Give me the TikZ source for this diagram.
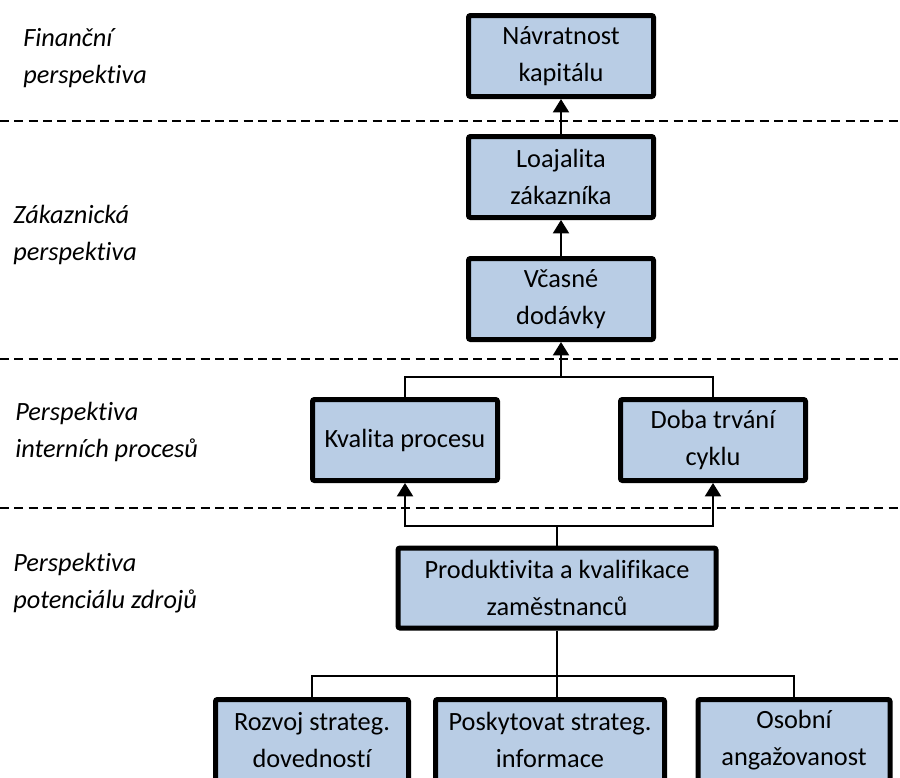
\documentclass[tikz,border=0pt]{standalone}
\usepackage{fontspec}
\setmainfont[Ligatures=NoCommon]{Carlito}
\usetikzlibrary{arrows.meta}
\definecolor{boxblue}{HTML}{B9CDE5}
\newcommand{\boxfont}{\fontsize{19.75}{27.75}\selectfont}
\tikzset{
	box/.style={rectangle, draw, line width=3.75pt, rounded corners=1.5pt, fill=boxblue, align=center, minimum width=138.75pt, minimum height=60.75pt, inner sep=2pt, font=\boxfont},
	conn/.style={line width=1.5pt},
	arr/.style={line width=1.5pt, -{Triangle[width=12pt,length=10pt]}},
	sep/.style={line width=1.5pt, dash pattern=on 6.75pt off 4pt},
	persp/.style={font=\boxfont\itshape, align=left, anchor=west, inner sep=0pt}
}
\begin{document}
\begin{tikzpicture}[x=0.75pt, y=-0.75pt]
	\useasboundingbox (0,0) rectangle (900,778);

	\draw[sep] (0,121) -- (900,121);
	\draw[sep] (0,359) -- (900,359);
	\draw[sep] (0,508) -- (900,508);

	\node[persp] (lfin) at (23,58) {Finanční\\perspektiva};
	\node[persp] (lzak) at (13,235) {Zákaznická\\perspektiva};
	\node[persp] (lint) at (15,432) {Perspektiva\\interních procesů};
	\node[persp] (lpot) at (13,583) {Perspektiva\\potenciálu zdrojů};

	\node[box] (navr) at (561,56) {Návratnost\\kapitálu};
	\node[box] (loaj) at (561,177) {Loajalita\\zákazníka};
	\node[box] (vcas) at (561,299) {Včasné\\dodávky};
	\node[box] (kval) at (405,440) {Kvalita procesu};
	\node[box] (doba) at (713,440) {Doba trvání\\cyklu};
	\node[box, minimum width=238.5pt, minimum height=60pt] (prod) at (557,588) {Produktivita a kvalifikace\\zaměstnanců};
	\node[box, minimum width=144.75pt] (rozv) at (312,740) {Rozvoj strateg.\\dovedností};
	\node[box, minimum width=171.75pt] (posk) at (550,740) {Poskytovat strateg.\\informace};
	\node[box, minimum width=144pt] (osob) at (794,740) {Osobní\\angažovanost};

	\draw[arr] (loaj) -- (navr);
	\draw[arr] (vcas) -- (loaj);
	\draw[conn] (kval.north) -- ++(0,-20) coordinate (jtop) -| (doba.north);
	\draw[arr] (jtop -| vcas.south) -- (vcas.south);
	\draw[conn] (prod.north) -- ++(0,-20) coordinate (jmid);
	\draw[arr] (jmid) -| (kval.south);
	\draw[arr] (jmid) -| (doba.south);
	\draw[conn] (prod.south) -- (prod.south |- posk.north);
	\draw[conn] (rozv.north) -- ++(0,-21) -| (osob.north);
\end{tikzpicture}
\end{document}
